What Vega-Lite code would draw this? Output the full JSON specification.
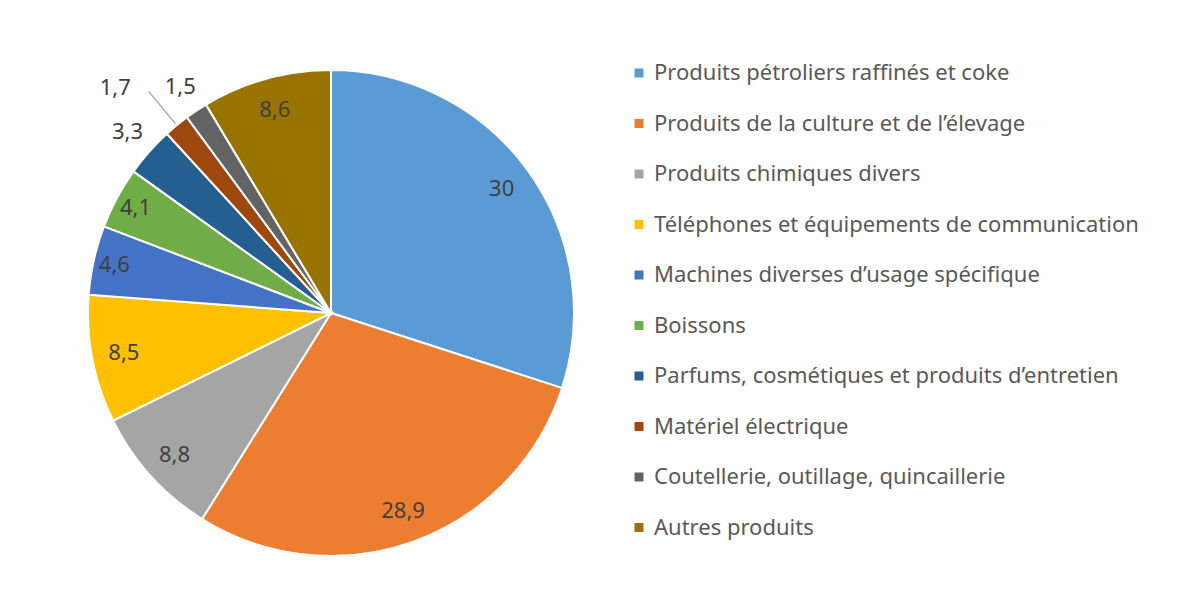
{
  "$schema": "https://vega.github.io/schema/vega-lite/v6.json",
  "width": 662,
  "height": 554,
  "autosize": {"type": "none"},
  "padding": {"left": 0, "top": 36, "right": 539, "bottom": 0},
  "background": "white",
  "data": {
    "values": [
      {"produit": "Produits pétroliers raffinés et coke", "part": 30, "ordre": 1},
      {"produit": "Produits de la culture et de l’élevage", "part": 28.9, "ordre": 2},
      {"produit": "Produits chimiques divers", "part": 8.8, "ordre": 3},
      {"produit": "Téléphones et équipements de communication", "part": 8.5, "ordre": 4},
      {"produit": "Machines diverses d’usage spécifique", "part": 4.6, "ordre": 5},
      {"produit": "Boissons", "part": 4.1, "ordre": 6},
      {"produit": "Parfums, cosmétiques et produits d’entretien", "part": 3.3, "ordre": 7},
      {"produit": "Matériel électrique", "part": 1.7, "ordre": 8},
      {"produit": "Coutellerie, outillage, quincaillerie", "part": 1.5, "ordre": 9},
      {"produit": "Autres produits", "part": 8.6, "ordre": 10}
    ]
  },
  "encoding": {
    "theta": {"field": "part", "type": "quantitative", "stack": true},
    "order": {"field": "ordre", "type": "quantitative"},
    "color": {
      "field": "produit",
      "type": "nominal",
      "scale": {
        "domain": [
          "Produits pétroliers raffinés et coke",
          "Produits de la culture et de l’élevage",
          "Produits chimiques divers",
          "Téléphones et équipements de communication",
          "Machines diverses d’usage spécifique",
          "Boissons",
          "Parfums, cosmétiques et produits d’entretien",
          "Matériel électrique",
          "Coutellerie, outillage, quincaillerie",
          "Autres produits"
        ],
        "range": ["#5B9BD5", "#ED7D31", "#A5A5A5", "#FFC000", "#4472C4", "#70AD47", "#255E91", "#9E480E", "#636363", "#997300"]
      },
      "legend": {
        "title": null,
        "orient": "none",
        "legendX": 628,
        "legendY": 26,
        "symbolType": "square",
        "symbolSize": 81,
        "symbolStrokeWidth": 0,
        "labelFontSize": 22,
        "labelFont": "Noto Sans",
        "labelColor": "#595959",
        "labelLimit": 600,
        "labelOffset": 4,
        "rowPadding": 28.5
      }
    }
  },
  "layer": [
    {
      "mark": {"type": "arc", "outerRadius": 243, "stroke": "white", "strokeWidth": 2}
    },
    {
      "mark": {"type": "arc", "innerRadius": 245, "outerRadius": 287, "padAngle": 0.3, "strokeWidth": 1.3},
      "encoding": {
        "fill": {"value": "transparent"},
        "stroke": {"condition": {"test": "datum.produit == 'Matériel électrique'", "value": "#A6A6A6"}, "value": "transparent"}
      }
    },
    {
      "mark": {"type": "text", "radius": 211, "fontSize": 22, "font": "Noto Sans"},
      "encoding": {
        "text": {"condition": {"test": "datum.part < 8", "value": ""}, "field": "part", "type": "quantitative", "format": ".3~g"},
        "color": {"value": "#404040"}
      }
    },
    {
      "mark": {"type": "text", "radius": 222, "fontSize": 22, "font": "Noto Sans"},
      "encoding": {
        "text": {"condition": {"test": "datum.part >= 8 || datum.part < 4", "value": ""}, "field": "part", "type": "quantitative", "format": ".3~g"},
        "color": {"value": "#404040"}
      }
    },
    {
      "mark": {"type": "text", "radius": 272, "fontSize": 22, "font": "Noto Sans"},
      "encoding": {
        "text": {"condition": {"test": "datum.part >= 4 || datum.produit == 'Matériel électrique'", "value": ""}, "field": "part", "type": "quantitative", "format": ".3~g"},
        "color": {"value": "#404040"}
      }
    },
    {
      "mark": {"type": "text", "radius": 272, "fontSize": 22, "font": "Noto Sans", "dx": -43, "dy": -15},
      "encoding": {
        "text": {"condition": {"test": "datum.produit != 'Matériel électrique'", "value": ""}, "field": "part", "type": "quantitative", "format": ".3~g"},
        "color": {"value": "#404040"}
      }
    }
  ],
  "config": {
    "view": {"stroke": null},
    "locale": {"number": {"decimal": ",", "thousands": " ", "grouping": [3], "currency": ["", " €"]}}
  }
}
